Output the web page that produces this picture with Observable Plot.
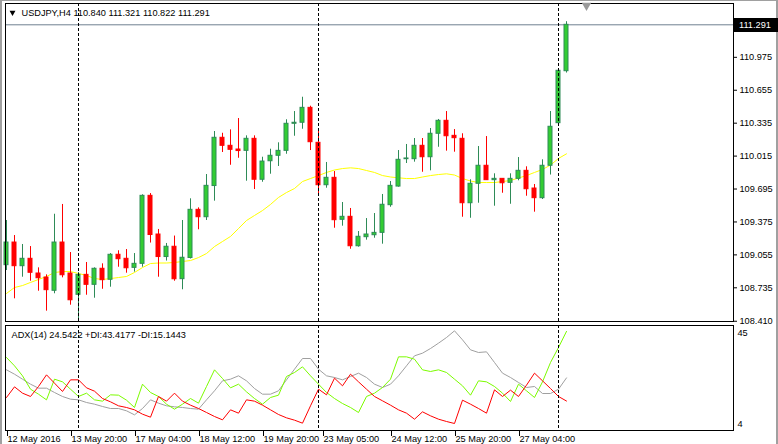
<!DOCTYPE html>
<html>
<head>
<meta charset="utf-8">
<script src="https://cdn.jsdelivr.net/npm/d3@7"></script>
<script src="https://cdn.jsdelivr.net/npm/@observablehq/plot@0.6"></script>
<style>
html, body { margin: 0; padding: 0; background: #fff; }
#wrap { position: relative; width: 778px; height: 444px; overflow: hidden; background: #fff;
  font-family: "Liberation Sans", Arial, sans-serif; }
#wrap svg { position: absolute; left: 0; }
#edgeL { position: absolute; left: 0; top: 0; width: 2px; height: 444px; background: #a0a0a0; }
#edgeR { position: absolute; right: 0; top: 0; width: 2px; height: 444px; background: #a0a0a0; }
#edgeT { position: absolute; left: 0; top: 0; width: 778px; height: 1px; background: #a0a0a0; }
#priceTag { position: absolute; left: 734px; width: 44px; height: 14px; background: #000; color: #fff;
  font: 9.2px "Liberation Sans", Arial, sans-serif; line-height: 14px; padding-left: 5px; box-sizing: border-box; }
</style>
</head>
<body>
<div id="wrap"><div id="edgeL"></div><div id="edgeR"></div><div id="edgeT"></div></div>
<script>
// ---------- data ----------
const symbol = "USDJPY,H4";
const opens = [108.955,109.175,108.945,109.017,108.874,108.835,108.706,109.175,108.874,108.667,
  108.861,108.764,108.920,108.813,109.056,109.017,108.929,108.968,109.629,109.253,
  109.034,109.134,108.819,109.025,109.493,109.421,109.724,110.193,110.115,110.079,
  110.066,110.183,109.785,109.965,110.018,110.066,110.329,110.339,110.484,110.144,
  109.732,109.804,109.396,109.425,109.139,109.227,109.246,109.269,109.538,109.719,
  109.985,109.985,110.115,110.004,110.232,110.358,110.212,110.183,109.557,109.746,
  109.921,109.781,109.794,109.755,109.794,109.872,109.700,109.606,109.921,110.335,110.840];
const highs = [109.389,109.243,109.156,109.136,108.929,108.861,109.450,109.545,109.078,108.884,
  108.981,108.929,108.968,109.068,109.095,109.107,109.068,109.639,109.651,109.302,
  109.166,109.238,109.389,109.600,109.512,109.836,110.254,110.237,110.270,110.380,
  110.212,110.212,110.004,110.082,110.144,110.368,110.448,110.587,110.500,110.254,
  109.953,109.865,109.564,109.506,109.282,109.408,109.457,109.642,109.768,110.069,
  110.128,110.186,110.186,110.283,110.371,110.448,110.273,110.232,109.785,110.108,
  110.205,109.843,109.794,109.843,110.001,109.911,109.739,109.979,110.448,110.847,111.321];
const lows = [108.903,108.628,108.838,108.799,108.702,108.508,108.677,108.832,108.566,108.434,
  108.663,108.634,108.721,108.741,108.935,108.877,108.887,108.935,109.170,108.838,
  108.995,108.799,108.716,109.015,109.299,109.389,109.577,110.050,109.926,109.994,
  109.771,109.690,109.761,109.839,109.914,110.033,110.208,110.276,110.069,109.635,
  109.703,109.314,109.334,109.110,109.130,109.198,109.217,109.159,109.518,109.713,
  109.943,109.956,109.858,109.872,110.101,110.063,110.053,109.421,109.411,109.557,
  109.778,109.528,109.654,109.547,109.775,109.625,109.470,109.593,109.831,110.335,110.822];
const closes = [109.175,108.945,109.017,108.881,108.828,108.712,109.175,108.857,108.614,108.861,
  108.764,108.920,108.809,109.056,109.013,108.925,108.968,109.629,109.248,109.034,
  109.134,108.818,109.027,109.493,109.421,109.726,110.193,110.115,110.076,110.064,
  110.183,109.785,109.962,110.018,110.066,110.329,110.339,110.484,110.150,109.732,
  109.804,109.392,109.425,109.139,109.231,109.253,109.269,109.542,109.726,109.979,
  109.992,110.115,110.004,110.232,110.358,110.208,110.189,109.557,109.746,109.921,
  109.781,109.794,109.751,109.794,109.872,109.693,109.606,109.921,110.300,110.844,111.291];
const maValues = [108.680,108.738,108.757,108.787,108.816,108.845,108.884,108.893,108.893,108.874,
  108.855,108.825,108.816,108.825,108.835,108.845,108.884,108.932,108.971,108.976,
  108.976,108.981,108.991,109.000,109.029,109.068,109.136,109.185,109.234,109.311,
  109.389,109.438,109.486,109.545,109.613,109.661,109.700,109.768,109.797,109.826,
  109.856,109.880,109.894,109.901,109.894,109.875,109.856,109.826,109.812,109.804,
  109.797,109.797,109.812,109.826,109.836,109.843,109.831,109.797,109.773,109.758,
  109.758,109.758,109.768,109.778,109.802,109.826,109.856,109.885,109.928,109.992,110.037];
const adxValues = [27.81,26.05,24.02,21.99,20.37,20.37,18.61,16.99,15.90,15.63,
  14.55,13.87,12.93,12.11,12.11,11.17,9.54,12.11,15.63,14.28,
  13.20,12.79,12.52,12.11,11.84,15.63,19.29,23.35,24.02,25.38,
  23.35,20.23,17.93,17.93,19.29,23.75,28.08,32.41,32.41,28.08,
  25.38,24.70,23.75,25.11,26.46,24.70,21.99,20.64,21.99,25.38,
  29.44,33.50,34.58,36.47,38.64,40.94,43.65,39.99,35.93,34.85,
  35.12,30.79,26.46,24.70,22.67,20.64,21.05,18.20,18.20,19.96,24.5422];
const plusDI = [32.82,29.44,25.38,19.96,17.93,15.63,24.02,22.94,19.96,16.99,
  18.34,15.63,15.09,17.66,17.53,15.50,12.52,21.99,18.61,16.99,
  13.87,11.84,13.87,16.17,14.28,21.05,27.81,24.29,20.50,21.99,
  18.88,16.17,13.87,16.58,17.53,25.11,26.73,29.03,25.38,21.99,
  18.61,16.17,14.14,12.52,10.49,16.99,18.34,20.64,24.02,33.09,
  33.09,32.14,27.81,27.14,27.81,26.73,24.02,21.32,17.53,23.35,
  22.94,21.05,18.34,14.96,21.99,19.29,16.58,22.94,30.79,36.88,43.4177];
const minusDI = [16.58,20.91,18.34,16.99,21.05,25.78,22.40,19.02,23.75,23.75,
  20.50,19.15,16.17,14.82,13.20,12.52,11.57,9.81,8.59,16.99,
  15.09,18.34,15.09,13.47,12.11,10.49,8.87,7.51,11.57,10.22,
  15.63,15.09,13.47,11.57,9.68,8.32,7.38,6.16,13.20,19.96,
  17.66,24.43,21.32,26.05,22.94,19.96,16.99,15.23,13.47,11.57,
  10.22,7.78,10.76,9.14,7.78,6.84,6.02,15.50,13.87,12.11,
  10.22,19.69,16.99,19.56,16.99,21.59,26.46,23.35,20.23,16.99,15.1443];
const priceTicks = [110.975, 110.655, 110.335, 110.015, 109.695, 109.375, 109.055, 108.735, 108.410];
const dateTickIdx = [1, 9, 17, 25, 33, 40.5, 49, 57, 65];
const dateTickLabels = ["12 May 2016", "13 May 20:00", "17 May 04:00", "18 May 12:00", "19 May 20:00",
  "23 May 05:00", "24 May 12:00", "25 May 20:00", "27 May 04:00"];
const weekStartIdx = [10, 40, 70];
const adxScaleMax = 45, adxScaleMin = 4;
const adxPeriod = 14;

// ---------- tables ----------
const candles = opens.map((o, k) => ({i: k + 1, o, h: highs[k], l: lows[k], c: closes[k]}));
const bulls = candles.filter(d => d.c >= d.o);
const bears = candles.filter(d => d.c < d.o);
const ma = maValues.map((v, k) => ({i: k + 1, v}));
const adx = adxValues.map((v, k) => ({i: k + 1, v}));
const pdi = plusDI.map((v, k) => ({i: k + 1, v}));
const mdi = minusDI.map((v, k) => ({i: k + 1, v}));
const last = candles[candles.length - 1];
const f3 = d3.format(".3f"), f4 = d3.format(".4f");
const header = `${symbol} ${f3(last.o)} ${f3(last.h)} ${f3(last.l)} ${f3(last.c)}`;
const adxHeader = `ADX(${adxPeriod}) ${f4(adxValues[adxValues.length-1])} +DI:${f4(plusDI[plusDI.length-1])} -DI:${f4(minusDI[minusDI.length-1])}`;
const labelOf = new Map(dateTickIdx.map((d, k) => [d, dateTickLabels[k]]));

const BULL_FILL = "#32CD32", BULL_EDGE = "#2E8B57", BEAR = "#FF0000";
const FONT = "'Liberation Sans', Arial, sans-serif";
const xDomain = [0.875, 91.875];

// ---------- main price panel ----------
const main = Plot.plot({
  width: 778, height: 322,
  marginTop: 3, marginBottom: 1, marginLeft: 5, marginRight: 45,
  x: {domain: xDomain, axis: null},
  y: {domain: [108.4076, 111.498], axis: null},
  style: {fontFamily: FONT, fontSize: "9.2px", background: "transparent", overflow: "visible", color: "#000"},
  marks: [
    Plot.ruleY([last.c], {stroke: "#708090"}),
    Plot.line(ma, {x: "i", y: "v", stroke: "#FFFF00", strokeWidth: 1}),
    Plot.ruleX(bulls, {x: "i", y1: "l", y2: "h", stroke: BULL_EDGE}),
    Plot.ruleX(bears, {x: "i", y1: "l", y2: "h", stroke: BEAR}),
    Plot.rect(bulls, {x1: d => d.i - 0.25, x2: d => d.i + 0.25, y1: "o", y2: "c", fill: BULL_FILL, stroke: BULL_EDGE}),
    Plot.rect(bears, {x1: d => d.i - 0.25, x2: d => d.i + 0.25, y1: "o", y2: "c", fill: BEAR, stroke: BEAR}),
    Plot.ruleX(weekStartIdx, {stroke: "#000", strokeDasharray: "3,2"}),
    Plot.frame({stroke: "#000"}),
    Plot.axisY({anchor: "right", ticks: priceTicks, tickFormat: f3, tickSize: 3, tickPadding: 3, label: null}),
    Plot.dot([0], {frameAnchor: "top-left", dx: 7, dy: 9, symbol: "triangle", rotate: 180, r: 2.2, fill: "#000", stroke: null}),
    Plot.text([header], {frameAnchor: "top-left", dx: 16, dy: 9.5, textAnchor: "start", lineAnchor: "middle", fill: "#000"}),
    Plot.dot([0], {frameAnchor: "top-left", dx: 581, dy: 2, symbol: "triangle", rotate: 180, r: 3.5, fill: "#9a9a9a", stroke: null})
  ]
});
main.style.top = "0px";
document.getElementById("wrap").appendChild(main);

// current price tag
const yTag = main.scale("y").apply(last.c);
const tag = document.createElement("div");
tag.id = "priceTag";
tag.textContent = f3(last.c);
tag.style.top = (yTag + 0.5 - 7) + "px";
document.getElementById("wrap").appendChild(tag);

// ---------- ADX panel ----------
const adxPlot = Plot.plot({
  width: 778, height: 122,
  marginTop: 3, marginBottom: 14, marginLeft: 5, marginRight: 45,
  x: {domain: xDomain, axis: null},
  y: {domain: [3.181, 45.812], axis: null},
  style: {fontFamily: FONT, fontSize: "9.2px", background: "transparent", overflow: "visible", color: "#000"},
  marks: [
    Plot.line(adx, {x: "i", y: "v", stroke: "#A0A0A0", strokeWidth: 1}),
    Plot.line(pdi, {x: "i", y: "v", stroke: "#7CFC00", strokeWidth: 1}),
    Plot.line(mdi, {x: "i", y: "v", stroke: "#FF0000", strokeWidth: 1}),
    Plot.ruleX(weekStartIdx, {stroke: "#000", strokeDasharray: "3,2"}),
    Plot.frame({stroke: "#000"}),
    Plot.axisX(dateTickIdx, {anchor: "bottom", tickFormat: d => labelOf.get(d), tickSize: 6, tickPadding: -1,
      textAnchor: "start", dx: 1, label: null}),
    Plot.text([adxHeader], {frameAnchor: "top-left", dx: 6, dy: 9.7, textAnchor: "start", lineAnchor: "middle", fill: "#000"}),
    Plot.text([adxScaleMax], {y: d => d, text: d => String(d), frameAnchor: "right", dx: 4, dy: 5.7, textAnchor: "start", lineAnchor: "middle", fill: "#000"}),
    Plot.text([adxScaleMin], {y: d => d, text: d => String(d), frameAnchor: "right", dx: 4, dy: -4, textAnchor: "start", lineAnchor: "middle", fill: "#000"})
  ]
});
adxPlot.style.top = "322px";
document.getElementById("wrap").appendChild(adxPlot);
</script>
</body>
</html>
